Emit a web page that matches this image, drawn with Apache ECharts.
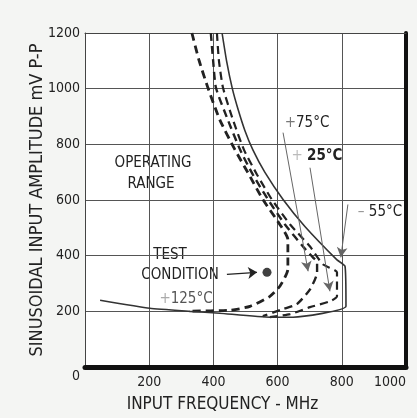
<!DOCTYPE html>
<html>
<head>
<meta charset="utf-8">
<script src="https://cdn.jsdelivr.net/npm/echarts@6/dist/echarts.min.js"></script>
<style>
  html, body { margin: 0; padding: 0; background: #f4f5f3; }
  #chart { width: 417px; height: 418px; }
</style>
</head>
<body>
<div id="chart"></div>
<script>
// 坐标轴刻度
const xTicks = [0, 200, 400, 600, 800, 1000]
const yTicks = [0, 200, 400, 600, 800, 1000, 1200]

// 各温度曲线 [频率 MHz, 幅度 mV]
const curveM55 = [[427, 1200], [441, 1100], [459, 1000], [477, 925], [498, 850], [523, 780], [560, 700],
  [617, 602], [685, 505], [785, 385], [810, 362], [813, 218], [648, 179], [576, 179],
  [420, 193], [327, 200], [202, 211], [47, 240]]
const curveP25 = [[411, 1200], [417, 1103], [430, 1003], [461, 888], [495, 781], [536, 691], [582, 602],
  [639, 512], [701, 433], [741, 369], [785, 340], [785, 254], [763, 236], [701, 215], [639, 190], [576, 179]]
const curveP75 = [[392, 1200], [399, 1103], [408, 1003], [445, 888], [483, 781], [523, 691], [570, 602],
  [623, 512], [679, 433], [710, 394], [723, 376], [723, 340], [701, 279], [660, 226], [617, 208], [554, 183]]
const curveP125 = [[333, 1200], [355, 1103], [383, 1003], [420, 888], [467, 781], [511, 691], [554, 602],
  [607, 512], [632, 458], [632, 351], [607, 290], [576, 254], [514, 218], [452, 204], [327, 201]]

// 测试点
const testPoint = [[567, 340]]

// 标注箭头 [起点, 终点]
const arrows = [
  [[617, 842], [695, 344]],
  [[701, 716], [763, 272]],
  [[819, 584], [797, 394]],
]
const testArrow = [[442, 333], [536, 340]]

const font = "'Liberation Sans Narrow', 'DejaVu Sans Condensed', sans-serif"
const ink = '#222'

const dashed = (name, data, width) => ({
  name: name,
  type: 'line',
  data: data,
  smooth: 0.2,
  symbol: 'none',
  lineStyle: { color: ink, width: width, type: [8, 5] },
  z: 3,
})

const option = {
  backgroundColor: '#f4f5f3',
  animation: false,
  grid: {
    left: 85,
    right: 11,
    top: 33,
    bottom: 50,
    show: true,
    backgroundColor: '#fff',
    borderWidth: 0,
  },
  xAxis: [
    {
      type: 'value',
      min: xTicks[0],
      max: xTicks[xTicks.length - 1],
      interval: 200,
      name: 'INPUT FREQUENCY - MHz',
      nameLocation: 'middle',
      nameGap: 29,
      nameMoveOverlap: false,
      nameTextStyle: { fontFamily: font, fontSize: 17, color: ink, padding: [0, 46, 0, 0] },
      axisLine: { onZero: false, lineStyle: { color: '#111', width: 5 } },
      axisTick: { show: false },
      axisLabel: {
        showMinLabel: false,
        alignMaxLabel: 'right',
        fontFamily: font,
        fontSize: 14,
        color: ink,
        margin: 8,
        formatter: (v) => String(v),
      },
      splitLine: { lineStyle: { color: '#555', width: 1 } },
    },
    {
      type: 'value',
      position: 'top',
      min: 0,
      max: 1000,
      axisLine: { onZero: false, lineStyle: { color: '#444', width: 1 } },
      axisTick: { show: false },
      axisLabel: { show: false },
      splitLine: { show: false },
    },
  ],
  yAxis: [
    {
      type: 'value',
      min: yTicks[0],
      max: yTicks[yTicks.length - 1],
      interval: 200,
      name: 'SINUSOIDAL INPUT AMPLITUDE mV P-P',
      nameLocation: 'middle',
      nameGap: 39,
      nameMoveOverlap: false,
      nameTextStyle: { fontFamily: font, fontSize: 18, color: ink },
      axisLine: { show: true, onZero: false, lineStyle: { color: '#444', width: 1 } },
      axisTick: { show: false },
      axisLabel: {
        fontFamily: font,
        fontSize: 14,
        color: ink,
        margin: 5,
        formatter: (v) => (v === 0 ? '{z|0}' : String(v)),
        rich: { z: { fontFamily: font, fontSize: 14, color: ink, padding: [18, 0, 0, 0] } },
      },
      splitLine: { lineStyle: { color: '#555', width: 1 } },
    },
    {
      type: 'value',
      position: 'right',
      min: 0,
      max: 1200,
      axisLine: { show: true, onZero: false, lineStyle: { color: '#111', width: 4 } },
      axisTick: { show: false },
      axisLabel: { show: false },
      splitLine: { show: false },
    },
  ],
  series: [
    {
      name: '-55°C',
      type: 'line',
      data: curveM55,
      smooth: 0.15,
      symbol: 'none',
      lineStyle: { color: '#333', width: 1.6 },
      z: 4,
    },
    dashed('+25°C', curveP25, 2.2),
    dashed('+75°C', curveP75, 2.4),
    dashed('+125°C', curveP125, 2.8),
    {
      name: 'test',
      type: 'scatter',
      data: testPoint,
      symbolSize: 9,
      itemStyle: { color: '#111' },
      z: 5,
      markLine: {
        silent: true,
        symbol: ['none', 'arrow'],
        symbolSize: [9, 9],
        label: { show: false },
        lineStyle: { color: ink, width: 1.2, type: 'solid' },
        data: [[{ coord: testArrow[0] }, { coord: testArrow[1] }]],
      },
    },
    {
      name: 'arrows',
      type: 'line',
      data: [],
      markLine: {
        silent: true,
        symbol: ['none', 'arrow'],
        symbolSize: [8, 10],
        label: { show: false },
        lineStyle: { color: '#666', width: 1, type: 'solid' },
        itemStyle: { color: '#333' },
        data: arrows.map((a) => [{ coord: a[0] }, { coord: a[1] }]),
      },
    },
  ],
  graphic: [
    { type: 'text', x: 153, y: 163, style: { text: 'OPERATING', font: '15px ' + font, fill: ink, align: 'center', verticalAlign: 'middle' } },
    { type: 'text', x: 151, y: 184, style: { text: 'RANGE', font: '15px ' + font, fill: ink, align: 'center', verticalAlign: 'middle' } },
    { type: 'text', x: 170, y: 255, style: { text: 'TEST', font: '15px ' + font, fill: ink, align: 'center', verticalAlign: 'middle' } },
    { type: 'text', x: 180, y: 275, style: { text: 'CONDITION', font: '15px ' + font, fill: ink, align: 'center', verticalAlign: 'middle' } },
    {
      type: 'text', x: 186, y: 299,
      style: {
        text: '{p|+}{t|125°C}', align: 'center', verticalAlign: 'middle',
        rich: { p: { font: '15px ' + font, fill: '#aaa' }, t: { font: '15px ' + font, fill: '#555' } },
      },
    },
    {
      type: 'text', x: 307, y: 123,
      style: {
        text: '{p|+}{t|75°C}', align: 'center', verticalAlign: 'middle',
        rich: { p: { font: '15px ' + font, fill: '#777' }, t: { font: '15px ' + font, fill: ink } },
      },
    },
    {
      type: 'text', x: 317, y: 156,
      style: {
        text: '{p|+ }{t|25°C}', align: 'center', verticalAlign: 'middle',
        rich: { p: { font: '15px ' + font, fill: '#bbb' }, t: { font: 'bold 15px ' + font, fill: ink } },
      },
    },
    {
      type: 'text', x: 380, y: 212,
      style: {
        text: '{p|– }{t|55°C}', align: 'center', verticalAlign: 'middle',
        rich: { p: { font: '15px ' + font, fill: '#999' }, t: { font: '15px ' + font, fill: ink } },
      },
    },
  ],
}

const chart = echarts.init(document.getElementById('chart'))
chart.setOption(option)
window.onresize = function () {
  chart.resize()
}
</script>
</body>
</html>
